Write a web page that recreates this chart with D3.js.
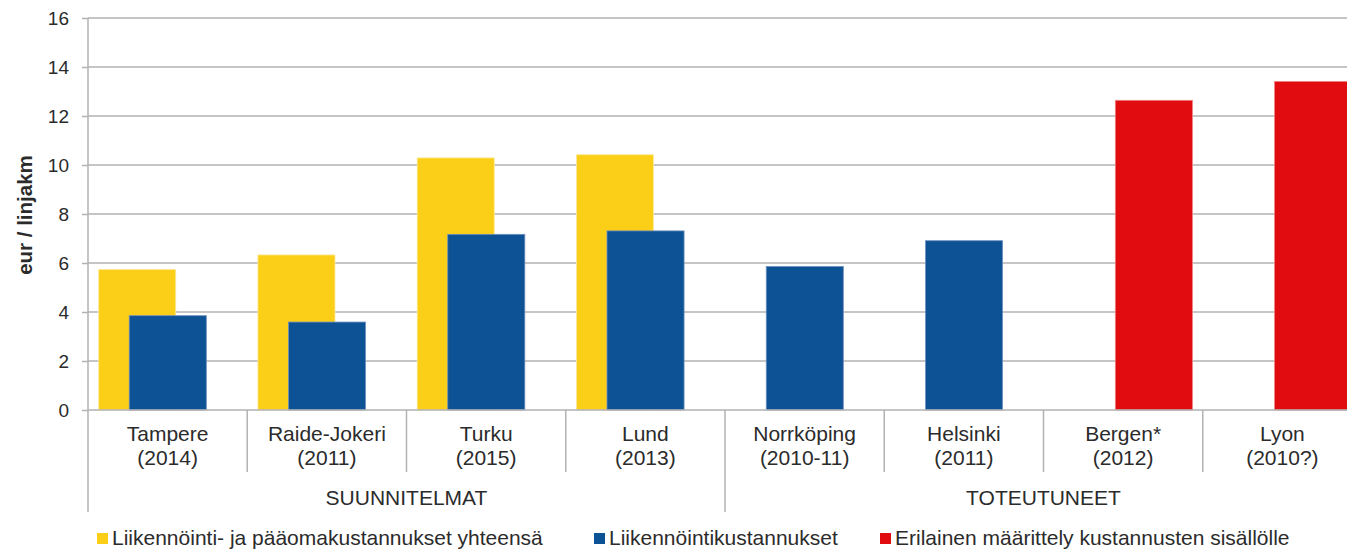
<!DOCTYPE html>
<html><head><meta charset="utf-8">
<script src="https://cdn.jsdelivr.net/npm/d3@7"></script>
<style>body{margin:0;background:#fff}svg{display:block}text{font-family:"Liberation Sans",Arial,sans-serif;fill:#2b2b2b}</style>
</head><body><svg id="c" width="1347" height="551"></svg>
<script>
const cities = ["Tampere","Raide-Jokeri","Turku","Lund","Norrköping","Helsinki","Bergen*","Lyon"];
const years = ["(2014)","(2011)","(2015)","(2013)","(2010-11)","(2011)","(2012)","(2010?)"];
const groupNames = ["SUUNNITELMAT","TOTEUTUNEET"];
const groupSizes = [4,4];
const totalCost = [5.74,6.33,10.29,10.42,null,null,null,null];
const operCost = [3.85,3.59,7.17,7.31,5.86,6.91,null,null];
const otherCost = [null,null,null,null,null,null,12.64,13.41];
const seriesNames = ["Liikennöinti- ja pääomakustannukset yhteensä","Liikennöintikustannukset","Erilainen määrittely kustannusten sisällölle"];
const seriesColors = ["#FBCF18","#0D5294","#E00C10"];
const yTicks = [0,2,4,6,8,10,12,14,16];

const svg = d3.select("#c");
const x0 = 88, x1 = 1362, yTop = 18, yBot = 410;
const x = d3.scaleBand().domain(d3.range(cities.length)).range([x0,x1]).padding(0);
const y = d3.scaleLinear().domain([0,16]).range([yBot,yTop]);
const bw = x.bandwidth();
const barW = bw*0.484, off0 = bw*0.067, step = bw*0.192;
const FS = 21;

// gridlines
svg.append("g").selectAll("line").data(yTicks.filter(d=>d>0)).join("line")
  .attr("x1",x0).attr("x2",1347).attr("y1",d=>y(d)).attr("y2",d=>y(d))
  .attr("stroke","#b2b2b2").attr("stroke-width",1.5);

// y axis
const ya = svg.append("g").attr("transform",`translate(${x0},0)`)
  .call(d3.axisLeft(y).tickValues(yTicks).tickSize(6).tickPadding(13));
ya.select(".domain").remove();
ya.selectAll(".tick line").attr("stroke","#b2b2b2").attr("stroke-width",1.5);
ya.selectAll(".tick text").attr("font-size",19).attr("font-family","Liberation Sans, Arial").attr("fill","#2b2b2b");
svg.append("line").attr("x1",x0).attr("x2",x0).attr("y1",yTop).attr("y2",512).attr("stroke","#b2b2b2").attr("stroke-width",1.5);

// bars
const allSeries = [totalCost, operCost, otherCost];
allSeries.forEach((vals,si)=>{
  svg.append("g").selectAll("rect").data(vals.map((v,i)=>({v,i})).filter(d=>d.v!=null)).join("rect")
    .attr("x",d=>x(d.i)+off0+si*step).attr("width",barW)
    .attr("y",d=>y(d.v)).attr("height",d=>yBot-y(d.v))
    .attr("fill",seriesColors[si]).attr("stroke", si===1?"#6f8fc0":(si===0?"#fde9a0":"#f08080")).attr("stroke-width",0.8);
});

// x axis line
svg.append("line").attr("x1",x0).attr("x2",1347).attr("y1",yBot).attr("y2",yBot).attr("stroke","#b2b2b2").attr("stroke-width",1.5);
// category separators
svg.append("g").selectAll("line").data(d3.range(1,cities.length)).join("line")
  .attr("x1",d=>x(d)).attr("x2",d=>x(d)).attr("y1",yBot).attr("y2",d=>d===groupSizes[0]?512:472)
  .attr("stroke","#b2b2b2").attr("stroke-width",1.5);
// category labels
svg.append("g").selectAll("text").data(cities).join("text")
  .attr("x",(d,i)=>x(i)+bw/2).attr("y",441).attr("text-anchor","middle").attr("font-size",FS)
  .text(d=>d);
svg.append("g").selectAll("text").data(years).join("text")
  .attr("x",(d,i)=>x(i)+bw/2).attr("y",465).attr("text-anchor","middle").attr("font-size",FS)
  .text(d=>d);
// group labels
let start=0;
groupNames.forEach((g,gi)=>{
  const a = x(start), b = x(start+groupSizes[gi]-1)+bw;
  svg.append("text").attr("x",(a+b)/2).attr("y",505).attr("text-anchor","middle").attr("font-size",FS).text(g);
  start += groupSizes[gi];
});

// y title
svg.append("text").attr("transform","translate(32,215) rotate(-90)").attr("text-anchor","middle")
  .attr("font-size",20.5).attr("font-weight","bold").text("eur / linjakm");

// legend
const legX = [97,594,880];
seriesNames.forEach((n,i)=>{
  svg.append("rect").attr("x",legX[i]).attr("y",533).attr("width",11).attr("height",11).attr("fill",seriesColors[i]);
  svg.append("text").attr("x",legX[i]+15).attr("y",545).attr("font-size",FS).text(n);
});
</script></body></html>
